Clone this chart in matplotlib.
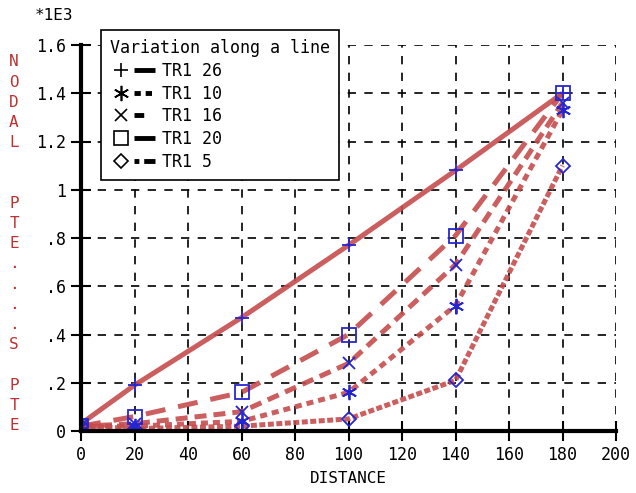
import numpy as np
import matplotlib
matplotlib.use('Agg')
import matplotlib.pyplot as plt
from matplotlib.lines import Line2D
from matplotlib.legend_handler import HandlerTuple

# distance along the line
distance = [0, 20, 60, 100, 140, 180]

# nodal values (*1E3)
tr1_26 = [0.03, 0.19, 0.47, 0.77, 1.08, 1.40]
tr1_10 = [0.02, 0.02, 0.04, 0.16, 0.52, 1.33]
tr1_16 = [0.02, 0.03, 0.08, 0.28, 0.69, 1.36]
tr1_20 = [0.02, 0.06, 0.16, 0.40, 0.81, 1.40]
tr1_5 = [0.02, 0.01, 0.02, 0.05, 0.21, 1.10]

labels = ['TR1 26', 'TR1 10', 'TR1 16', 'TR1 20', 'TR1 5']
series = [tr1_26, tr1_10, tr1_16, tr1_20, tr1_5]
markers = ['+', (6, 2, 0), 'x', 's', 'D']
marker_sizes = [10, 11, 9, 10, 7]
dashes = ['-', (0, (1.4, 1.0)), (0, (2.4, 1.4)), (0, (4.0, 2.6)), (0, (1.2, 0.5))]
legend_dashes = ['-', (0, (1.3, 1.0)), (0, (2.0, 10)), (0, (8, 2)), (0, (1.0, 1.0, 3.0, 1.0))]

xticks = np.arange(0, 201, 20)
yticks = [0, 0.2, 0.4, 0.6, 0.8, 1.0, 1.2, 1.4, 1.6]
yticklabels = ['0', '.2', '.4', '.6', '.8', '1', '1.2', '1.4', '1.6']

mono = 'DejaVu Sans Mono'
fs = 12
line_color = '#c64c4c'
mark_color = '#2626d0'

fig = plt.figure(figsize=(6.36, 4.93), dpi=100)
ax = fig.add_axes([81 / 636, 1 - 431 / 493, 535 / 636, 386 / 493])

for y, m, ms, ls in zip(series, markers, marker_sizes, dashes):
    ax.plot(distance, y, color=line_color, lw=3.6, linestyle=ls, alpha=0.9,
            solid_capstyle='butt', dash_capstyle='butt', zorder=3)
    ax.plot(distance, y, linestyle='none', marker=m, ms=ms, mfc='none',
            mec=mark_color, mew=1.3, zorder=4)

ax.set_xlim(0, 200)
ax.set_ylim(0, 1.6)
ax.set_xticks(xticks)
ax.set_xticklabels([str(t) for t in xticks], fontfamily=mono, fontsize=fs)
ax.set_yticks(yticks)
ax.set_yticklabels(yticklabels, fontfamily=mono, fontsize=fs)
ax.tick_params(direction='inout', length=14, width=1.5, color='black', pad=4)

ax.grid(True, color='black', linestyle=(0, (5, 5)), linewidth=1.2)
ax.set_axisbelow(True)
for s in ['top', 'right']:
    ax.spines[s].set_visible(False)
for s in ['left', 'bottom']:
    ax.spines[s].set_linewidth(3)
    ax.spines[s].set_zorder(5)

ax.set_xlabel('DISTANCE', fontfamily=mono, fontsize=11.5, labelpad=5)
fig.text(35 / 636, 1 - 16 / 493, '*1E3', fontfamily=mono, fontsize=11.5, va='center')

# vertical red axis label, one letter per row
ylab = 'NODAL  PTE....S PTE'
for i, ch in enumerate(ylab):
    if ch != ' ':
        fig.text(14 / 636, 1 - (62 + i * 20.2) / 493, ch, color='#c03030',
                 fontfamily=mono, fontsize=11.5, ha='center', va='center')

handles = []
for m, ms, ld in zip(markers, marker_sizes, legend_dashes):
    mk = Line2D([], [], linestyle='none', marker=m, ms=ms, mfc='none',
                mec='black', mew=1.2)
    ln = Line2D([], [], color='black', lw=3.5, linestyle=ld,
                solid_capstyle='butt', dash_capstyle='butt')
    handles.append((mk, ln))

leg = fig.legend(handles, labels, loc='upper left',
                 bbox_to_anchor=(101 / 636, 1 - 30 / 493),
                 title='Variation along a line', alignment='left',
                 title_fontproperties={'family': mono, 'size': fs},
                 prop={'family': mono, 'size': fs},
                 handler_map={tuple: HandlerTuple(ndivide=None, pad=0.2)},
                 handlelength=2.7, handletextpad=0.4, labelspacing=0.28,
                 borderpad=0.55, borderaxespad=0, fancybox=False,
                 edgecolor='black', framealpha=1)
leg.get_frame().set_linewidth(1.2)
leg.set_zorder(10)

fig.savefig('out.png', dpi=100)
